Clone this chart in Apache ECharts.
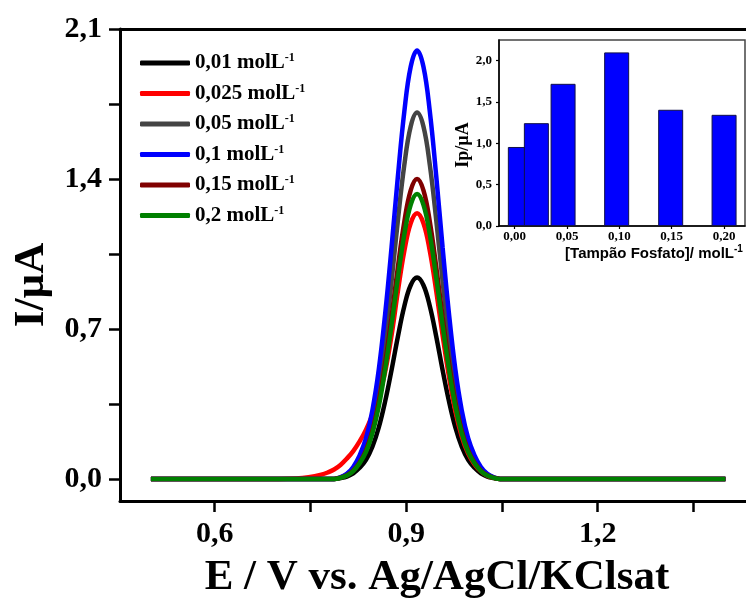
<!DOCTYPE html>
<html>
<head>
<meta charset="utf-8">
<script src="https://cdn.jsdelivr.net/npm/echarts@6/dist/echarts.min.js"></script>
<style>html,body{margin:0;padding:0;background:#fff}#c{width:746px;height:599px}</style>
</head>
<body>
<div id="c"></div>
<script>
// Potential (V) sampled along the voltammograms
const potential = [0.5, 0.7, 0.727, 0.747, 0.767, 0.777, 0.787, 0.797, 0.807, 0.817, 0.827, 0.837, 0.847, 0.857, 0.867, 0.877, 0.887, 0.897, 0.907, 0.917, 0.927, 0.937, 0.947, 0.957, 0.967, 0.977, 0.987, 0.997, 1.007, 1.017, 1.027, 1.037, 1.047, 1.06, 1.4];
// Current (µA) for each phosphate buffer concentration
const c001  = [0,0,0,0,0,0,0,0.004,0.011,0.026,0.052,0.089,0.150,0.240,0.362,0.508,0.665,0.806,0.904,0.94,0.904,0.806,0.665,0.508,0.362,0.240,0.150,0.089,0.052,0.026,0.011,0.004,0,0,0];
const c0025 = [0,0,0.002,0.008,0.02,0.03,0.044,0.065,0.095,0.13,0.175,0.23,0.30,0.38,0.50,0.67,0.877,1.063,1.193,1.24,1.193,1.063,0.877,0.670,0.477,0.316,0.198,0.118,0.068,0.035,0.015,0.005,0,0,0];
const c005  = [0,0,0,0,0,0,0,0.007,0.021,0.048,0.094,0.162,0.274,0.436,0.658,0.923,1.209,1.465,1.645,1.71,1.645,1.465,1.209,0.923,0.658,0.436,0.274,0.162,0.094,0.048,0.021,0.007,0,0,0];
const c01   = [0,0,0,0,0,0,0,0.008,0.024,0.056,0.11,0.19,0.32,0.51,0.77,1.08,1.414,1.714,1.924,2.0,1.924,1.714,1.414,1.08,0.77,0.51,0.32,0.19,0.11,0.056,0.024,0.008,0,0,0];
const c015  = [0,0,0,0,0,0,0,0.006,0.017,0.039,0.077,0.133,0.224,0.357,0.539,0.756,0.99,1.2,1.347,1.4,1.347,1.2,0.99,0.756,0.539,0.357,0.224,0.133,0.077,0.039,0.017,0.006,0,0,0];
const c02   = [0,0,0,0,0,0,0,0.005,0.016,0.037,0.073,0.126,0.213,0.339,0.512,0.718,0.94,1.14,1.279,1.33,1.279,1.14,0.94,0.718,0.512,0.339,0.213,0.126,0.073,0.037,0.016,0.005,0,0,0];
const seriesNames = ['0,01 molL-1','0,025 molL-1','0,05 molL-1','0,1 molL-1','0,15 molL-1','0,2 molL-1'];
const seriesColors = ['#000000','#ff0000','#444444','#0000ff','#800000','#008000'];
const seriesValues = [c001, c0025, c005, c01, c015, c02];
// Main axis ticks
const xTicks = [0.6, 0.75, 0.9, 1.05, 1.2, 1.35];
const xLabels = [0.6, 0.9, 1.2];
const yTicks = [0, 0.35, 0.7, 1.05, 1.4, 1.75, 2.1];
const yLabels = [0, 0.7, 1.4, 2.1];
// Inset: peak current vs concentration
const insetX = [0.0054, 0.0207, 0.0462, 0.0974, 0.149, 0.200];
const insetIp = [0.956, 1.244, 1.72, 2.10, 1.406, 1.345];
const insetXTicks = [0, 0.05, 0.10, 0.15, 0.20];
const insetYTicks = [0, 0.5, 1.0, 1.5, 2.0];

const serif = "'Liberation Serif','Times New Roman',serif";
const sans = "'Liberation Sans',Arial,sans-serif";
const comma = d => v => v.toFixed(d).replace('.', ',');

const chart = echarts.init(document.getElementById('c'), null, {renderer: 'canvas'});
const lineSeries = seriesValues.map((vals, i) => ({
  name: seriesNames[i], type: 'line', xAxisIndex: 0, yAxisIndex: 0,
  data: potential.map((e, j) => [e, vals[j]]),
  showSymbol: false, smooth: 0.4,
  lineStyle: {color: seriesColors[i], width: 4.5}, itemStyle: {color: seriesColors[i]},
  z: 2 + i, animation: false
}));

chart.setOption({
  animation: false,
  backgroundColor: '#fff',
  legend: {
    orient: 'vertical', left: 135, top: 47, icon: 'roundRect', itemWidth: 50, itemHeight: 5, itemGap: 9,
    data: seriesNames,
    formatter: n => '{t|' + n.replace('-1', '') + '}{s|-1}',
    textStyle: {
      rich: {
        t: {fontFamily: serif, fontWeight: 'bold', fontSize: 21, color: '#000', lineHeight: 24},
        s: {fontFamily: serif, fontWeight: 'bold', fontSize: 12, color: '#000', padding: [0, 0, 10, 0]}
      }
    }
  },
  grid: [
    {left: 120, top: 29, right: 0, bottom: 98, containLabel: false, outerBoundsMode: 'none'},
    {left: 499, top: 40, right: 1, bottom: 373, show: true, borderColor: '#444', borderWidth: 1.5, backgroundColor: '#fff', z: 10, outerBoundsMode: 'none'}
  ],
  xAxis: [
    {type: 'value', gridIndex: 0, min: 0.4516, max: 1.4323,
     name: 'E / V vs. Ag/AgCl/KClsat', nameLocation: 'middle', nameGap: 55,
     nameTextStyle: {fontFamily: serif, fontWeight: 'bold', fontSize: 43, color: '#000', padding: [0, 0, 0, 8]},
     axisLine: {onZero: false, lineStyle: {color: '#000', width: 3}},
     axisTick: {customValues: xTicks, length: 11, lineStyle: {width: 2.5, color: '#000'}},
     axisLabel: {customValues: xLabels, formatter: comma(1), margin: 18, fontFamily: serif, fontWeight: 'bold', fontSize: 30, color: '#000'},
     splitLine: {show: false}},
    {type: 'value', gridIndex: 0, position: 'top', min: 0.4516, max: 1.4323,
     axisLine: {onZero: false, lineStyle: {color: '#000', width: 3}}, axisTick: {show: false}, axisLabel: {show: false}, splitLine: {show: false}},
    {type: 'value', gridIndex: 1, min: -0.015, max: 0.22,
     name: '[Tampão Fosfato]/ molL{s|-1}', nameLocation: 'middle', nameGap: 18,
     nameTextStyle: {fontFamily: sans, fontWeight: 'bold', fontSize: 15, color: '#000', padding: [0, 0, 0, 64],
       rich: {s: {fontFamily: sans, fontWeight: 'bold', fontSize: 10, color: '#000', padding: [0, 0, 9, 0]}}},
     axisLine: {onZero: false, lineStyle: {color: '#000', width: 1.5}},
     axisTick: {customValues: insetXTicks, length: 3, lineStyle: {color: '#000', width: 1.2}},
     axisLabel: {customValues: insetXTicks, formatter: comma(2), margin: 4, fontFamily: serif, fontWeight: 'bold', fontSize: 13, color: '#000'},
     splitLine: {show: false}, z: 11}
  ],
  yAxis: [
    {type: 'value', gridIndex: 0, min: -0.103, max: 2.1,
     name: 'I/µA', nameLocation: 'middle', nameGap: 66,
     nameTextStyle: {fontFamily: serif, fontWeight: 'bold', fontSize: 43, color: '#000', padding: [0, 40, 0, 0]},
     axisLine: {onZero: false, lineStyle: {color: '#000', width: 3}},
     axisTick: {customValues: yTicks, length: 11, lineStyle: {width: 2.5, color: '#000'}},
     axisLabel: {customValues: yLabels, formatter: comma(1), margin: 18, fontFamily: serif, fontWeight: 'bold', fontSize: 30, color: '#000'},
     splitLine: {show: false}},
    {type: 'value', gridIndex: 1, min: 0, max: 2.25,
     name: 'Ip/µA', nameLocation: 'middle', nameGap: 25,
     nameTextStyle: {fontFamily: serif, fontWeight: 'bold', fontSize: 18, color: '#000', padding: [0, 24, 0, 0]},
     axisLine: {onZero: false, lineStyle: {color: '#000', width: 1.5}},
     axisTick: {customValues: insetYTicks, length: 3, lineStyle: {color: '#000', width: 1.2}},
     axisLabel: {customValues: insetYTicks, formatter: comma(1), margin: 7, fontFamily: serif, fontWeight: 'bold', fontSize: 13, color: '#000'},
     splitLine: {show: false}, z: 11}
  ],
  series: lineSeries.concat([{
    name: 'Ip', type: 'bar', xAxisIndex: 2, yAxisIndex: 1,
    data: insetX.map((x, i) => [x, insetIp[i]]),
    barWidth: 25, itemStyle: {color: '#0000ff', borderColor: '#10104a', borderWidth: 1}, z: 12
  }])
});
</script>
</body>
</html>
